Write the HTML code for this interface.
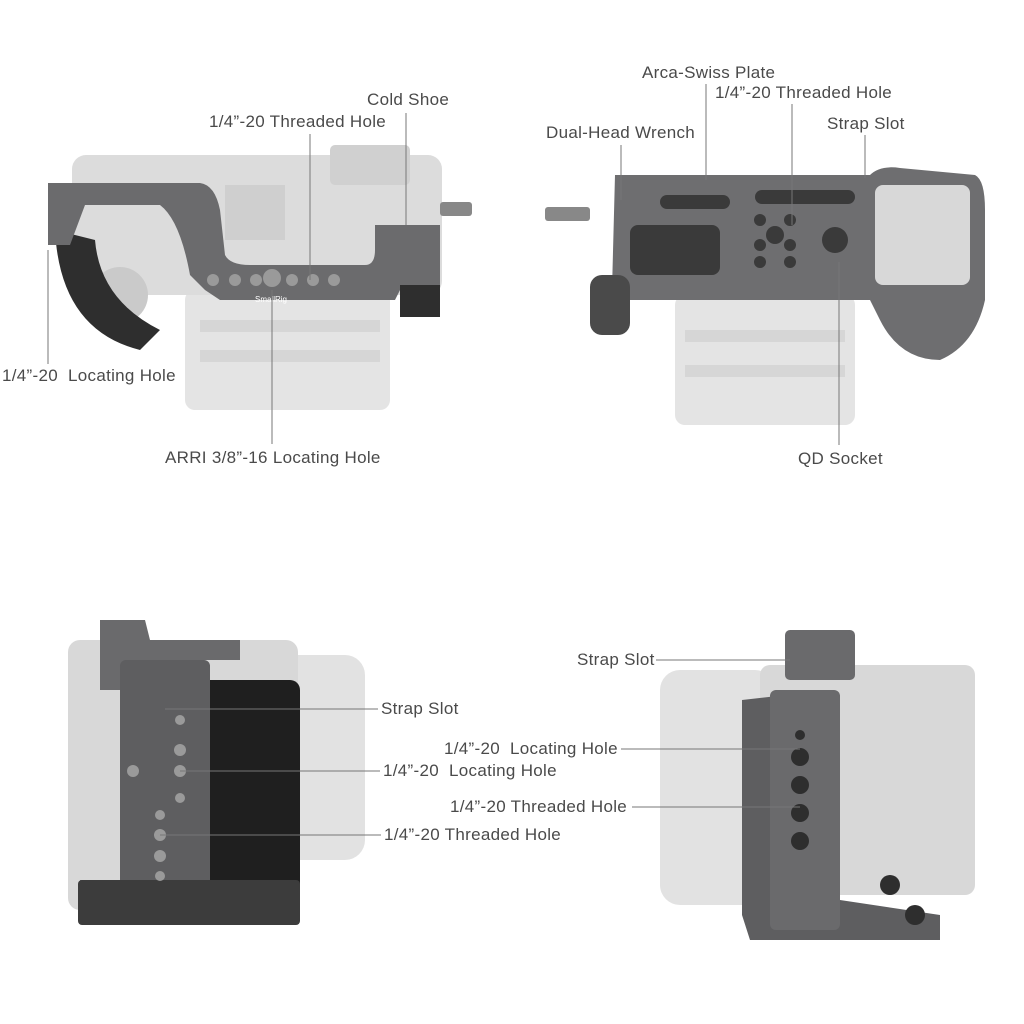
<!DOCTYPE html>
<html><head><meta charset="utf-8"><style>
html,body{margin:0;padding:0;background:#fff;}
body{width:1024px;height:1024px;position:relative;overflow:hidden;font-family:"Liberation Sans",sans-serif;}
.t{position:absolute;font-size:17px;letter-spacing:0.3px;color:#4a4a4a;white-space:nowrap;line-height:18px;}
svg{position:absolute;left:0;top:0;}
</style></head><body>
<svg width="1024" height="1024" viewBox="0 0 1024 1024">
<rect x="185" y="290" width="205" height="120" rx="10" fill="#e4e4e4"/>
<rect x="200" y="320" width="180" height="12" fill="#d6d6d6"/>
<rect x="200" y="350" width="180" height="12" fill="#d6d6d6"/>
<rect x="72" y="155" width="370" height="140" rx="14" fill="#dcdcdc"/>
<rect x="330" y="145" width="80" height="40" rx="5" fill="#d0d0d0"/>
<rect x="225" y="185" width="60" height="55" fill="#cfcfcf"/>
<circle cx="120" cy="295" r="28" fill="#cacaca"/>
<path d="M55 230 Q60 330 140 350 L160 330 Q100 300 95 240 Z" fill="#2e2e2e"/>
<path d="M48 183 L200 183 Q215 185 220 210 L225 255 Q230 265 250 265 L365 265 Q375 265 375 250 L375 225 L440 225 L440 290 L400 290 L395 300 L220 300 L205 290 L190 275 Q180 220 160 205 L85 205 L70 245 L48 245 Z" fill="#6b6b6d"/>
<g fill="#9a9a9a"><circle cx="213" cy="280" r="6"/><circle cx="235" cy="280" r="6"/><circle cx="256" cy="280" r="6"/><circle cx="272" cy="278" r="9"/><circle cx="292" cy="280" r="6"/><circle cx="313" cy="280" r="6"/><circle cx="334" cy="280" r="6"/></g>
<rect x="400" y="285" width="40" height="32" fill="#2e2e2e"/>
<rect x="440" y="202" width="32" height="14" rx="3" fill="#888"/>
<text x="255" y="302" font-size="8" fill="#fff" font-family="Liberation Sans">SmallRig</text>
<rect x="675" y="295" width="180" height="130" rx="10" fill="#e4e4e4"/>
<rect x="685" y="330" width="160" height="12" fill="#d6d6d6"/>
<rect x="685" y="365" width="160" height="12" fill="#d6d6d6"/>
<path d="M615 175 L870 175 Q880 165 900 168 L975 175 Q985 180 985 210 L985 300 Q975 345 940 360 Q900 360 880 320 L870 300 L620 300 L612 290 Z" fill="#6e6e70"/>
<rect x="875" y="185" width="95" height="100" rx="8" fill="#d8d8d8"/>
<rect x="630" y="225" width="90" height="50" rx="8" fill="#3a3a3a"/>
<rect x="660" y="195" width="70" height="14" rx="7" fill="#3a3a3a"/>
<rect x="755" y="190" width="100" height="14" rx="7" fill="#3a3a3a"/>
<g fill="#3a3a3a"><circle cx="760" cy="220" r="6"/><circle cx="790" cy="220" r="6"/><circle cx="760" cy="245" r="6"/><circle cx="790" cy="245" r="6"/><circle cx="775" cy="235" r="9"/><circle cx="760" cy="262" r="6"/><circle cx="790" cy="262" r="6"/><circle cx="835" cy="240" r="13"/></g>
<rect x="545" y="207" width="45" height="14" rx="3" fill="#888"/>
<rect x="590" y="275" width="40" height="60" rx="12" fill="#4a4a4a"/>
<rect x="255" y="655" width="110" height="205" rx="20" fill="#e2e2e2"/>
<rect x="68" y="640" width="230" height="270" rx="12" fill="#d8d8d8"/>
<path d="M100 620 L145 620 L150 640 L240 640 L240 660 L150 660 L135 690 L125 900 L80 900 L80 880 L120 880 L122 690 L100 690 Z" fill="#6a6a6c"/>
<rect x="195" y="680" width="105" height="240" rx="10" fill="#1f1f1f"/>
<rect x="120" y="660" width="90" height="260" rx="6" fill="#5e5e60"/>
<rect x="78" y="880" width="222" height="45" rx="4" fill="#3c3c3c"/>
<g fill="#9a9a9a"><circle cx="180" cy="720" r="5"/><circle cx="180" cy="750" r="6"/><circle cx="133" cy="771" r="6"/><circle cx="180" cy="771" r="6"/><circle cx="180" cy="798" r="5"/><circle cx="160" cy="815" r="5"/><circle cx="160" cy="835" r="6"/><circle cx="160" cy="856" r="6"/><circle cx="160" cy="876" r="5"/></g>
<rect x="660" y="670" width="115" height="235" rx="20" fill="#e2e2e2"/>
<rect x="760" y="665" width="215" height="230" rx="10" fill="#d8d8d8"/>
<rect x="785" y="630" width="70" height="50" rx="5" fill="#6a6a6c"/>
<path d="M742 700 L830 690 L840 900 L940 915 L940 940 L750 940 L742 915 Z" fill="#5e5e60"/>
<rect x="770" y="690" width="70" height="240" rx="6" fill="#6a6a6c"/>
<g fill="#2e2e2e"><circle cx="800" cy="735" r="5"/><circle cx="800" cy="757" r="9"/><circle cx="800" cy="785" r="9"/><circle cx="800" cy="813" r="9"/><circle cx="800" cy="841" r="9"/><circle cx="890" cy="885" r="10"/><circle cx="915" cy="915" r="10"/></g>
<g stroke="#777" stroke-width="1" fill="none">
<polyline points="406,113 406,225"/>
<line x1="310" y1="134" x2="310" y2="280"/>
<line x1="272" y1="290" x2="272" y2="444"/>
<line x1="48" y1="250" x2="48" y2="364"/>
<line x1="706" y1="84" x2="706" y2="180"/>
<line x1="792" y1="104" x2="792" y2="225"/>
<line x1="865" y1="135" x2="865" y2="178"/>
<polyline points="621,145 621,200"/>
<line x1="839" y1="445" x2="839" y2="262"/>
<line x1="656" y1="660" x2="790" y2="660"/>
<line x1="621" y1="749" x2="800" y2="749"/>
<line x1="632" y1="807" x2="800" y2="807"/>
<line x1="378" y1="709" x2="165" y2="709"/>
<line x1="380" y1="771" x2="180" y2="771"/>
<line x1="381" y1="835" x2="160" y2="835"/>
</g>
</svg>
<div class="t" style="left:367px;top:91px">Cold Shoe</div>
<div class="t" style="left:209px;top:113px">1/4”-20 Threaded Hole</div>
<div class="t" style="left:2px;top:367px">1/4”-20&nbsp; Locating Hole</div>
<div class="t" style="left:165px;top:449px">ARRI 3/8”-16 Locating Hole</div>
<div class="t" style="left:642px;top:64px">Arca-Swiss Plate</div>
<div class="t" style="left:715px;top:84px">1/4”-20 Threaded Hole</div>
<div class="t" style="left:546px;top:124px">Dual-Head Wrench</div>
<div class="t" style="left:827px;top:115px">Strap Slot</div>
<div class="t" style="left:798px;top:450px">QD Socket</div>
<div class="t" style="left:577px;top:651px">Strap Slot</div>
<div class="t" style="left:444px;top:740px">1/4”-20&nbsp; Locating Hole</div>
<div class="t" style="left:450px;top:798px">1/4”-20 Threaded Hole</div>
<div class="t" style="left:381px;top:700px">Strap Slot</div>
<div class="t" style="left:383px;top:762px">1/4”-20&nbsp; Locating Hole</div>
<div class="t" style="left:384px;top:826px">1/4”-20 Threaded Hole</div>
</body></html>
